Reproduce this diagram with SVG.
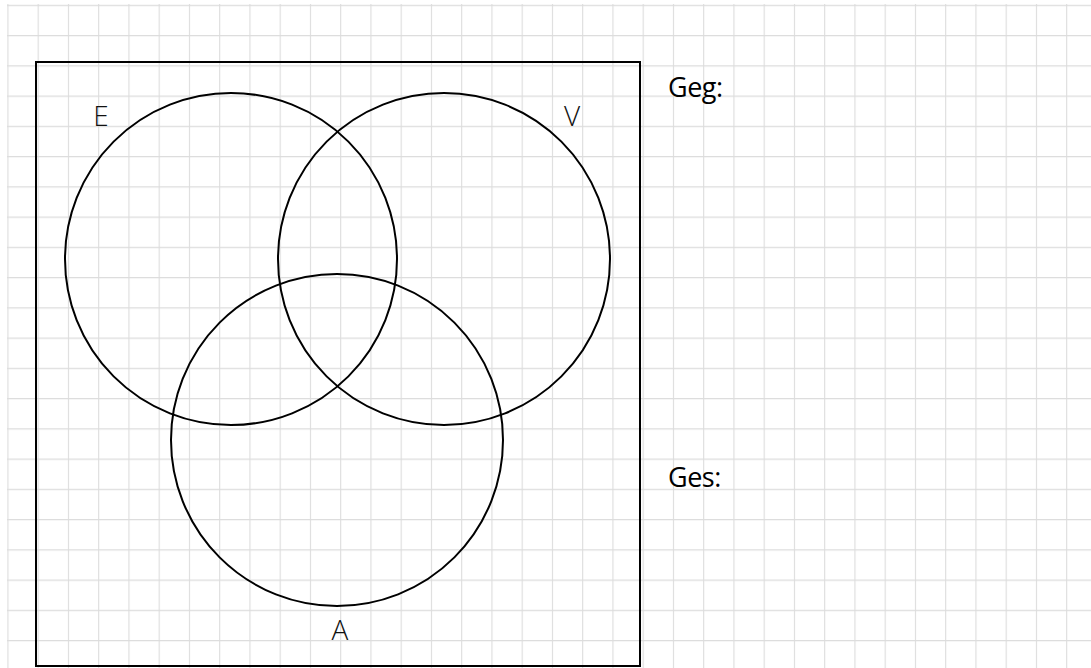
<svg xmlns="http://www.w3.org/2000/svg" width="1091" height="668" viewBox="0 0 1091 668">
<defs>
<pattern id="grid" x="7.4" y="4.8" width="30.25" height="30.25" patternUnits="userSpaceOnUse">
<path d="M0.5 0 V30.25 M0 0.5 H30.25" fill="none" stroke="#dcdcdc" stroke-width="1.2"/>
</pattern>
</defs>
<style>
.c{fill:none;stroke:#000;stroke-width:2}
.lbl{font-family:"Open Sans","Noto Sans",sans-serif;font-weight:300;font-size:28px;fill:#111;text-anchor:middle}
.t{font-family:"Open Sans","Noto Sans",sans-serif;font-size:27px;font-weight:500;fill:#000;letter-spacing:-0.5px}
</style>
<rect width="1091" height="668" fill="#fff"/>
<rect x="7" y="4" width="1084" height="664" fill="url(#grid)"/>
<g id="frame"><rect x="36" y="62" width="604" height="604" class="c"/></g>
<g id="E"><circle cx="231" cy="259" r="166" class="c"/><text x="101" y="126" class="lbl">E</text></g>
<g id="V"><circle cx="444" cy="259" r="166" class="c"/><text x="572" y="126" class="lbl">V</text></g>
<g id="A"><circle cx="337" cy="440" r="166" class="c"/><text x="340" y="640" class="lbl">A</text></g>
<g id="connectors"></g>
<text x="668" y="97" class="t">Geg:</text>
<text x="668" y="487" class="t">Ges:</text>
</svg>
